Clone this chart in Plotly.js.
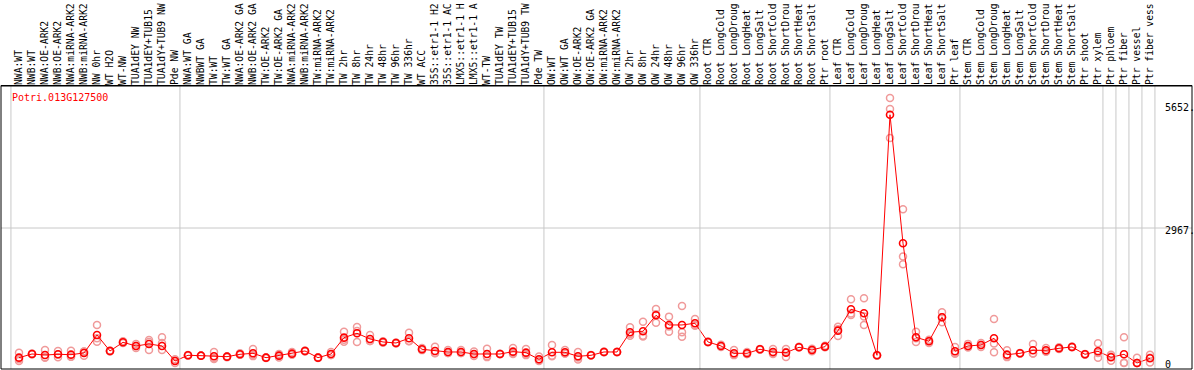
<!DOCTYPE html>
<html><head><meta charset="utf-8">
<script src="https://cdn.plot.ly/plotly-3.0.1.min.js"></script>
<style>html,body{margin:0;padding:0;background:#fff}#chart{width:1194px;height:370px}</style>
</head><body><div id="chart"></div>
<script>
const categories = [
"NWA:WT","NWB:WT","NWA:OE-ARK2","NWB:OE-ARK2","NWA:miRNA-ARK2","NWB:miRNA-ARK2","NW 0hr","WT H2O","WT-NW","TUA1dEY NW","TUA1dEY+TUB15","TUA1dY+TUB9 NW","Pde NW",
"NWA:WT GA","NWBWT GA","TW:WT","TW:WT GA","NWA:OE-ARK2 GA","NWB:OE-ARK2 GA","TW:OE-ARK2","TW:OE-ARK2 GA","NWA:miRNA-ARK2","NWB:miRNA-ARK2","TW:miRNA-ARK2","TW:miRNA-ARK2","TW 2hr","TW 8hr","TW 24hr","TW 48hr","TW 96hr","TW 336hr","WT ACC","35S::etr1-1 H2","35S::etr1-1 AC","LMX5::etr1-1 H","LMX5::etr1-1 A","WT-TW","TUA1dEY TW","TUA1dEY+TUB15","TUA1dY+TUB9 TW","Pde TW",
"OW:WT","OW:WT GA","OW:OE-ARK2","OW:OE-ARK2 GA","OW:miRNA-ARK2","OW:miRNA-ARK2","OW 2hr","OW 8hr","OW 24hr","OW 48hr","OW 96hr","OW 336hr",
"Root CTR","Root LongCold","Root LongDroug","Root LongHeat","Root LongSalt","Root ShortCold","Root ShortDrou","Root ShortHeat","Root ShortSalt","Ptr root",
"Leaf CTR","Leaf LongCold","Leaf LongDroug","Leaf LongHeat","Leaf LongSalt","Leaf ShortCold","Leaf ShortDrou","Leaf ShortHeat","Leaf ShortSalt","Ptr leaf",
"Stem CTR","Stem LongCold","Stem LongDroug","Stem LongHeat","Stem LongSalt","Stem ShortCold","Stem ShortDrou","Stem ShortHeat","Stem ShortSalt","Ptr shoot","Ptr xylem",
"Ptr phloem","Ptr fiber","Ptr vessel","Ptr fiber vess"
];
const meanValues = [
117,198,176,191,183,220,616,264,455,374,418,374,44,
169,161,147,139,191,213,117,161,205,264,117,198,557,653,528,462,440,543,301,264,242,242,198,198,198,249,227,81,
235,235,147,169,242,242,675,697,1049,836,836,873,
462,374,213,213,301,242,227,345,286,359,
711,1181,1093,169,5456,2633,565,477,1005,257,
374,396,543,183,213,279,279,323,352,191,257,
125,191,0,103
];
const rep1 = [
227,210,286,264,271,250,836,255,480,418,506,565,80,
169,161,242,139,213,308,117,161,242,264,117,242,689,792,616,462,440,667,330,359,286,286,250,315,198,330,308,140,
396,286,242,169,242,242,785,909,1188,1019,1254,965,
462,400,286,240,301,308,308,352,286,380,
799,1401,1423,169,5823,3381,689,510,1115,350,
420,440,968,280,213,418,330,345,352,191,433,
180,565,117,180
];
const rep2 = [
81,190,125,125,139,160,469,275,440,330,286,440,0,
160,165,110,150,180,180,125,200,190,255,125,176,469,704,484,480,450,480,290,220,220,220,190,150,205,220,200,44,
160,210,120,175,250,248,640,600,887,800,675,820,
470,370,180,200,310,220,240,345,260,350,
594,1056,836,160,5581,2339,462,440,895,220,
360,350,235,140,220,210,260,310,360,200,117,
51,7,0,117
];
const rep3 = [
45,195,117,184,139,250,543,262,445,374,462,286,52,
178,157,89,128,180,151,109,122,183,273,109,176,513,463,484,444,430,482,283,213,220,220,154,129,191,197,173,59,
149,209,79,163,234,236,600,582,1072,689,579,834,
454,352,173,199,292,198,133,359,312,347,
740,1086,1020,178,4943,2171,544,481,1005,201,
342,398,426,129,206,209,247,314,344,182,221,
144,1,0,12
];
const groupStarts = [0,13,41,53,63,73,84,85,86,87,88];
const yTickVals = [0, 2967, 5652];
const yTickText = ["0", "2967.", "5652."];
const geneName = "Potri.013G127500";

const idx = categories.map((_, i) => i);
const mono = "DejaVu Sans Mono";
const traces = [];
[rep1, rep2, rep3].forEach(r => traces.push({
  x: idx, y: r, type: "scatter", mode: "markers", hoverinfo: "skip",
  marker: {symbol: "circle-open", size: 7, color: "#f09a9a", line: {width: 1.5}}
}));
traces.push({
  x: idx, y: meanValues, type: "scatter", mode: "lines+markers",
  line: {color: "#ff0000", width: 1},
  marker: {symbol: "circle-open", size: 7, color: "#ff0000", line: {width: 1.6}}
});

const H = 283; // plot height in px
const topPaper = (H + 0.5) / H;
const shapes = [];
groupStarts.forEach(g => shapes.push({
  type: "line", xref: "x", yref: "paper", x0: g - 0.62, x1: g - 0.62, y0: 0, y1: topPaper,
  line: {color: "#c8c8c8", width: 1}, layer: "above"
}));
shapes.push({type: "line", xref: "paper", yref: "y", x0: 0, x1: 1, y0: yTickVals[1], y1: yTickVals[1],
  line: {color: "#c8c8c8", width: 1}, layer: "below"});
shapes.push({type: "rect", xref: "paper", yref: "paper", x0: 0, x1: 1, y0: 0, y1: topPaper,
  line: {color: "#000", width: 1}});
shapes.push({type: "line", xref: "paper", yref: "paper", x0: 0, x1: 1, y0: 1, y1: 1,
  line: {color: "#000", width: 1}});

const annotations = [{
  xref: "paper", yref: "paper", x: 0.0076, y: (H - 11) / H, xanchor: "left", yanchor: "middle",
  text: geneName, showarrow: false, font: {family: mono, size: 10, color: "#ff0000"}
}];
yTickVals.forEach((v, i) => annotations.push({
  xref: "paper", yref: "y", x: 0.9757, y: v, xanchor: "left", yanchor: "middle", yshift: -2,
  text: yTickText[i], showarrow: false, font: {family: mono, size: 10, color: "#000"}
}));

const layout = {
  width: 1194, height: 370,
  margin: {l: 1, r: 2, t: 86, b: 1, pad: 0},
  paper_bgcolor: "#fff", plot_bgcolor: "#fff", showlegend: false,
  xaxis: {range: [-1.3846, 90.2308], side: "top", tickmode: "array", tickvals: idx, ticktext: categories,
    tickangle: -90, ticks: "", showgrid: false, zeroline: false, showline: false, automargin: false,
    tickfont: {family: mono, size: 9.7, color: "#000"}},
  yaxis: {range: [-132, 6088], showticklabels: false, showgrid: false, zeroline: false, ticks: "", automargin: false},
  shapes: shapes, annotations: annotations
};
Plotly.newPlot("chart", traces, layout, {staticPlot: true, displayModeBar: false});
</script></body></html>
